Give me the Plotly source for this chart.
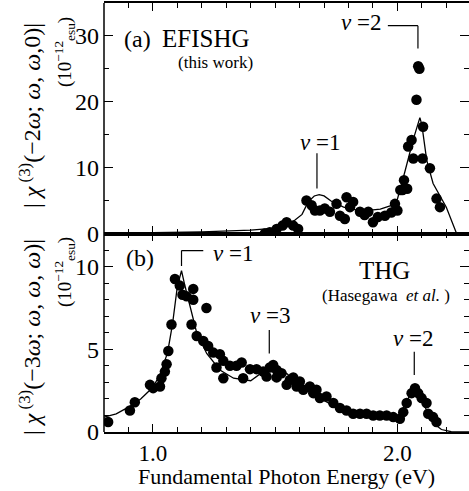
import plotly.graph_objects as go

# ---------------- data ----------------
# (a) EFISHG, this work
efishg_E = [1.458, 1.478, 1.506, 1.530, 1.547, 1.574, 1.594, 1.628, 1.649, 1.663, 1.683,
            1.703, 1.724, 1.751, 1.765, 1.785, 1.792, 1.806, 1.819, 1.847, 1.866, 1.881,
            1.900, 1.920, 1.949, 1.975, 1.990, 2.000, 2.012, 2.021, 2.027, 2.040, 2.044,
            2.058, 2.065, 2.078, 2.085, 2.090, 2.103, 2.105, 2.133, 2.160, 2.174]
efishg_chi = [0.0, 0.2, 0.7, 1.2, 1.7, 1.2, 0.7, 5.0, 4.3, 3.5, 3.5,
              3.8, 3.3, 4.5, 2.7, 2.2, 5.5, 4.0, 4.8, 3.3, 2.8, 3.3,
              1.7, 2.5, 2.7, 3.2, 4.5, 3.5, 6.6, 6.6, 8.1, 6.8, 13.2,
              14.2, 11.4, 20.3, 25.4, 25.0, 11.4, 16.2, 9.9, 5.3, 4.0]
efishg_fit_E = [0.80, 1.00, 1.20, 1.40, 1.50, 1.55, 1.58, 1.61, 1.635, 1.66, 1.68, 1.70,
                1.73, 1.78, 1.83, 1.88, 1.93, 1.97, 2.00, 2.03, 2.065, 2.092, 2.10, 2.12,
                2.146, 2.20, 2.242, 2.30]
efishg_fit_chi = [0.0, 0.1, 0.25, 0.5, 0.8, 1.3, 2.0, 2.9, 4.8, 5.7, 5.9, 5.7,
                  4.9, 4.0, 3.6, 3.5, 3.7, 4.2, 5.2, 9.3, 14.3, 17.6, 16.5, 11.1,
                  7.6, 4.0, 0.0, 0.0]

# (b) THG, Hasegawa et al.
thg_E = [0.817, 0.906, 0.926, 0.988, 1.001, 1.029, 1.035, 1.049, 1.056, 1.063, 1.076,
         1.090, 1.110, 1.121, 1.138, 1.158, 1.165, 1.165, 1.179, 1.206, 1.219, 1.226,
         1.247, 1.260, 1.274, 1.288, 1.288, 1.315, 1.342, 1.363, 1.369, 1.397, 1.424,
         1.451, 1.465, 1.478, 1.492, 1.506, 1.506, 1.526, 1.547, 1.560, 1.574, 1.588,
         1.601, 1.615, 1.642, 1.656, 1.669, 1.683, 1.710, 1.738, 1.765, 1.792, 1.819,
         1.847, 1.874, 1.901, 1.928, 1.956, 1.983, 2.010, 2.024, 2.038, 2.058, 2.072,
         2.085, 2.099, 2.119, 2.126, 2.146, 2.160]
thg_chi = [0.6, 1.3, 1.8, 2.85, 2.65, 2.75, 3.25, 3.65, 4.1, 4.9, 6.5,
           9.25, 8.85, 8.3, 8.2, 6.5, 8.65, 8.0, 5.8, 5.5, 7.5, 5.2,
           4.8, 3.9, 4.7, 4.3, 3.25, 4.0, 4.0, 4.2, 3.25, 3.8, 3.8,
           3.65, 3.35, 3.9, 4.05, 3.75, 3.3, 3.55, 2.85, 3.15, 3.3, 2.75,
           3.05, 2.55, 2.75, 2.35, 2.55, 2.05, 2.15, 1.75, 1.45, 1.3, 1.1,
           1.1, 1.1, 1.0, 1.0, 1.0, 0.9, 0.8, 1.2, 1.75, 2.35, 2.65,
           2.35, 2.05, 1.75, 1.1, 0.9, 0.6]
thg_fit_E = [0.80, 0.85, 0.90, 0.95, 1.00, 1.03, 1.06, 1.08, 1.10, 1.117, 1.13, 1.151,
             1.179, 1.22, 1.274, 1.33, 1.40, 1.465, 1.50, 1.55, 1.60, 1.65, 1.70, 1.75,
             1.80, 1.87, 1.95, 2.00, 2.03, 2.05, 2.07, 2.09, 2.12, 2.15, 2.18, 2.22, 2.30]
thg_fit_chi = [0.9, 1.1, 1.5, 2.0, 2.7, 3.5, 4.8, 6.5, 8.8, 9.75, 8.9, 7.6,
               6.0, 4.75, 3.75, 3.25, 3.1, 3.8, 4.0, 3.5, 2.8, 2.3, 1.9, 1.5,
               1.25, 1.0, 0.9, 0.95, 1.6, 2.2, 2.55, 2.2, 1.3, 0.5, 0.15, 0.02, 0.0]

x_ticks = [1.0, 2.0]
x_tick_labels = ["1.0", "2.0"]
ya_ticks = [0, 10, 20, 30]
yb_ticks = [0, 5, 10]

# ---------------- layout geometry ----------------
W, H = 469, 491
L, R, T, B = 104, 0, 3, 59
PW, PH = W - L - R, H - T - B
split = (432 - 233.5) / PH  # fraction of plot height for panel (b)
X_RANGE = [0.8, 0.8 + PW / 244.5]

FONT = "Liberation Serif"
BLACK = "black"


def px_x(px):
    return (px - L) / PW


def px_y(py):
    return (H - B - py) / PH


fig = go.Figure()

fig.add_trace(go.Scatter(x=efishg_fit_E, y=efishg_fit_chi, mode="lines",
                         line=dict(color=BLACK, width=1.3), xaxis="x2", yaxis="y2",
                         showlegend=False, hoverinfo="skip"))
fig.add_trace(go.Scatter(x=efishg_E, y=efishg_chi, mode="markers",
                         marker=dict(color=BLACK, size=10.5), xaxis="x2", yaxis="y2",
                         showlegend=False))
fig.add_trace(go.Scatter(x=thg_fit_E, y=thg_fit_chi, mode="lines",
                         line=dict(color=BLACK, width=1.3), xaxis="x", yaxis="y",
                         showlegend=False, hoverinfo="skip"))
fig.add_trace(go.Scatter(x=thg_E, y=thg_chi, mode="markers",
                         marker=dict(color=BLACK, size=10.5), xaxis="x", yaxis="y",
                         showlegend=False))

tickfont = dict(family=FONT, size=24, color=BLACK)
xtickfont = dict(family=FONT, size=23, color=BLACK)
xcommon = dict(range=X_RANGE, tickvals=x_ticks, ticktext=x_tick_labels,
               ticks="inside", ticklen=8, tickwidth=1.3, tickcolor=BLACK,
               minor=dict(dtick=0.1, tick0=0.0, ticks="inside", ticklen=5,
                          tickwidth=1.3, tickcolor=BLACK),
               showline=True, linecolor=BLACK, linewidth=1.5, mirror="ticks",
               showgrid=False, zeroline=False, tickfont=xtickfont)
ycommon = dict(ticks="inside", ticklen=9, tickwidth=1.3, tickcolor=BLACK,
               showline=False, mirror="ticks", showgrid=False, zeroline=False,
               tickfont=tickfont, ticklabelstandoff=4)

fig.update_layout(
    width=W, height=H,
    margin=dict(l=L, r=R, t=T, b=B, pad=0),
    paper_bgcolor="white", plot_bgcolor="white",
    xaxis=dict(domain=[0, 1], anchor="y", ticklabelstandoff=0, **xcommon),
    xaxis2=dict(domain=[0, 1], anchor="y2", showticklabels=False, **xcommon),
    yaxis=dict(domain=[0, split], anchor="x", range=[0, 12.0], tickvals=yb_ticks,
               minor=dict(dtick=1, ticks="inside", ticklen=5, tickwidth=1.3,
                          tickcolor=BLACK), **ycommon),
    yaxis2=dict(domain=[split, 1], anchor="x2", range=[0, 35.0], tickvals=ya_ticks,
                minor=dict(dtick=5, ticks="inside", ticklen=5, tickwidth=1.3,
                           tickcolor=BLACK), **ycommon),
    showlegend=False,
)

# left spine
fig.add_shape(type="line", xref="paper", yref="paper", x0=0, x1=0, y0=0, y1=1,
              line=dict(color=BLACK, width=1.5))

ann = []


def txt(x, y, text, size=23, xref="paper", yref="paper", angle=0, xanchor="center"):
    ann.append(dict(x=x, y=y, xref=xref, yref=yref, text=text, showarrow=False,
                    font=dict(family=FONT, size=size, color=BLACK),
                    xanchor=xanchor, yanchor="middle", textangle=angle))


# y titles
txt(px_x(30), px_y(116),
    "| <i>χ</i><sup> (3)</sup>(−2<i>ω</i>; <i>ω</i>, <i>ω</i>,0)|", size=24, angle=-90)
txt(px_x(64), px_y(52), "(10<sup>−12</sup><sub>esu</sub>)", size=19, angle=-90)
txt(px_x(30), px_y(337),
    "| <i>χ</i><sup> (3)</sup>(−3<i>ω</i>; <i>ω</i>, <i>ω</i>, <i>ω</i>)|", size=24, angle=-90)
txt(px_x(64), px_y(272), "(10<sup>−12</sup><sub>esu</sub>)", size=19, angle=-90)

# x title
txt(px_x(286), px_y(476), "Fundamental Photon Energy (eV)", size=22)

# panel labels (data coords)
txt(0.9366, 29.6, "(a)", size=24, xref="x2", yref="y2")
txt(1.217, 29.6, "EFISHG", size=25, xref="x2", yref="y2")
txt(1.258, 26.0, "(this work)", size=17, xref="x2", yref="y2")
txt(1.683, 13.85, "<i>ν</i> =1", size=23, xref="x2", yref="y2")
txt(1.851, 32.0, "<i>ν</i> =2", size=23, xref="x2", yref="y2")

txt(0.9468, 10.5, "(b)", size=24, xref="x", yref="y")
txt(1.327, 10.8, "<i>ν</i> =1", size=23, xref="x", yref="y")
txt(1.949, 9.75, "THG", size=25, xref="x", yref="y")
txt(1.953, 8.25, "(Hasegawa  <i>et al.</i> )", size=17, xref="x", yref="y")
txt(1.478, 7.07, "<i>ν</i> =3", size=23, xref="x", yref="y")
txt(2.063, 5.66, "<i>ν</i> =2", size=23, xref="x", yref="y")

fig.update_layout(annotations=ann)

# leader lines
lw = dict(color=BLACK, width=1.2)
leaders_a = [(1.671, 12.2, 1.671, 6.85), (1.961, 31.55, 2.084, 31.55), (2.084, 31.55, 2.084, 28.1)]
leaders_b = [(1.117, 10.97, 1.206, 10.97), (1.117, 10.97, 1.117, 10.04),
             (1.476, 6.16, 1.476, 4.75), (2.069, 4.85, 2.069, 3.44)]
for x0, y0, x1, y1 in leaders_a:
    fig.add_shape(type="line", xref="x2", yref="y2", x0=x0, y0=y0, x1=x1, y1=y1, line=lw)
for x0, y0, x1, y1 in leaders_b:
    fig.add_shape(type="line", xref="x", yref="y", x0=x0, y0=y0, x1=x1, y1=y1, line=lw)

fig.write_html("out.html")
